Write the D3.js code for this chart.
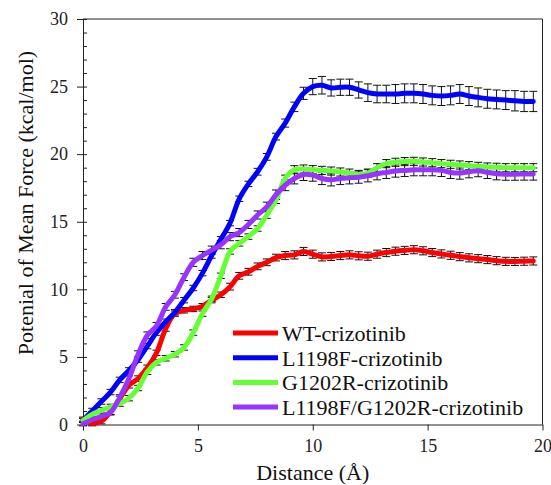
<!DOCTYPE html>
<html>
<head>
<meta charset="utf-8">
<script src="https://cdn.jsdelivr.net/npm/d3@7"></script>
<style>
  body { margin: 0; background: #fff; font-family: Times New Roman; }
</style>
</head>
<body>
<div id="chart"></div>
<script>
var svgWidth = 551;
var svgHeight = 485;

var margin = { top: 19, right: 8, bottom: 60, left: 83 };
var width = 542.5 - margin.left;
var height = 424.5 - margin.top;
var serifFont = "Times New Roman";

// distance grid (Å)
var distance = [0, 0.4, 0.8, 1.2, 1.6, 2.0, 2.4, 2.8, 3.2, 3.6,
  4.0, 4.4, 4.8, 5.2, 5.6, 6.0, 6.4, 6.8, 7.2, 7.6,
  8.0, 8.4, 8.8, 9.2, 9.6, 10.0, 10.4, 10.8, 11.2, 11.6,
  12.0, 12.4, 12.8, 13.2, 13.6, 14.0, 14.4, 14.8, 15.2, 15.6,
  16.0, 16.4, 16.8, 17.2, 17.6, 18.0, 18.4, 18.8, 19.2, 19.6];

var seriesNames = ["WT-crizotinib", "L1198F-crizotinib", "G1202R-crizotinib", "L1198F/G1202R-crizotinib"];
var seriesColors = ["#ff0000", "#0000ff", "#66ff33", "#9933ff"];

var wtPmf = [0.4, 0.1, 0.25, 0.95, 1.9, 2.9, 3.4, 4.2, 5.3, 7.1,
  8.2, 8.45, 8.55, 8.75, 9.2, 9.6, 10.2, 11.0, 11.3, 11.7,
  12.0, 12.35, 12.5, 12.55, 12.8, 12.6, 12.4, 12.43, 12.5, 12.55,
  12.48, 12.45, 12.6, 12.72, 12.82, 12.88, 12.93, 12.85, 12.72, 12.62,
  12.52, 12.42, 12.33, 12.27, 12.2, 12.12, 12.07, 12.06, 12.08, 12.1];
var wtErr = [0.15, 0.2, 0.2, 0.2, 0.2, 0.2, 0.2, 0.2, 0.2, 0.2,
  0.2, 0.2, 0.2, 0.2, 0.2, 0.2, 0.25, 0.25, 0.25, 0.25,
  0.25, 0.25, 0.3, 0.3, 0.3, 0.3, 0.3, 0.3, 0.3, 0.3,
  0.3, 0.3, 0.3, 0.3, 0.3, 0.3, 0.3, 0.3, 0.3, 0.3,
  0.3, 0.3, 0.3, 0.3, 0.3, 0.3, 0.3, 0.3, 0.3, 0.3];

var l1198fPmf = [0.3, 1.0, 1.7, 2.4, 3.3, 4.0, 4.8, 5.8, 6.8, 7.6,
  8.3, 9.2, 10.1, 11.2, 12.5, 13.7, 14.9, 16.7, 17.8, 18.7,
  19.8, 21.3, 22.3, 23.5, 24.5, 25.0, 25.1, 24.9, 24.95, 24.95,
  24.75, 24.55, 24.45, 24.45, 24.45, 24.5, 24.5, 24.45, 24.35, 24.3,
  24.35, 24.45, 24.3, 24.2, 24.1, 24.05, 24.0, 23.95, 23.9, 23.9];
var l1198fErr = [0.15, 0.2, 0.2, 0.2, 0.2, 0.2, 0.2, 0.2, 0.2, 0.2,
  0.2, 0.2, 0.2, 0.2, 0.2, 0.2, 0.2, 0.2, 0.2, 0.25,
  0.25, 0.25, 0.3, 0.35, 0.45, 0.6, 0.65, 0.6, 0.6, 0.6,
  0.6, 0.65, 0.65, 0.65, 0.7, 0.7, 0.7, 0.7, 0.7, 0.7,
  0.7, 0.7, 0.7, 0.7, 0.7, 0.7, 0.7, 0.75, 0.75, 0.75];

var g1202rPmf = [0.3, 0.75, 1.05, 1.3, 1.55, 1.95, 2.7, 3.9, 4.6, 4.9,
  5.2, 5.7, 6.8, 8.2, 9.3, 11.0, 12.8, 13.4, 13.9, 14.5,
  15.5, 16.6, 18.2, 18.85, 18.9, 18.85, 18.8, 18.75, 18.68, 18.6,
  18.5, 18.6, 19.0, 19.3, 19.4, 19.45, 19.47, 19.42, 19.37, 19.3,
  19.25, 19.2, 19.15, 19.1, 19.05, 19.03, 19.0, 19.0, 19.0, 19.0];
var g1202rErr = [0.15, 0.2, 0.2, 0.2, 0.2, 0.2, 0.2, 0.2, 0.2, 0.2,
  0.2, 0.2, 0.2, 0.2, 0.2, 0.2, 0.2, 0.2, 0.2, 0.2,
  0.25, 0.25, 0.25, 0.3, 0.3, 0.3, 0.3, 0.3, 0.3, 0.3,
  0.3, 0.3, 0.3, 0.3, 0.3, 0.3, 0.3, 0.3, 0.3, 0.3,
  0.3, 0.3, 0.3, 0.3, 0.3, 0.3, 0.3, 0.3, 0.3, 0.3];

var dualPmf = [0.05, 0.35, 0.6, 0.9, 2.0, 3.4, 5.2, 6.6, 7.3, 8.7,
  9.6, 10.9, 12.0, 12.5, 12.9, 13.3, 13.9, 14.2, 14.8, 15.5,
  16.1, 17.0, 17.7, 18.2, 18.5, 18.45, 18.2, 18.1, 18.2, 18.25,
  18.3, 18.4, 18.55, 18.65, 18.75, 18.8, 18.85, 18.85, 18.85, 18.8,
  18.65, 18.6, 18.7, 18.78, 18.65, 18.55, 18.52, 18.52, 18.53, 18.53];
var dualErr = [0.15, 0.2, 0.2, 0.2, 0.2, 0.2, 0.25, 0.25, 0.25, 0.25,
  0.25, 0.25, 0.3, 0.3, 0.3, 0.3, 0.3, 0.3, 0.3, 0.3,
  0.35, 0.35, 0.4, 0.4, 0.45, 0.45, 0.45, 0.45, 0.45, 0.45,
  0.45, 0.45, 0.45, 0.45, 0.45, 0.45, 0.45, 0.45, 0.45, 0.45,
  0.45, 0.45, 0.45, 0.45, 0.45, 0.45, 0.45, 0.45, 0.45, 0.45];

var xTicks = [0, 5, 10, 15, 20];
var yTicks = [0, 5, 10, 15, 20, 25, 30];

var pmfValues = [wtPmf, l1198fPmf, g1202rPmf, dualPmf];
var errValues = [wtErr, l1198fErr, g1202rErr, dualErr];

var series = seriesNames.map(function(name, i) {
  return {
    name: name,
    color: seriesColors[i],
    values: distance.map(function(d, j) {
      return { x: d, y: pmfValues[i][j], e: errValues[i][j] };
    })
  };
});

var svg = d3.select("#chart")
  .append("svg")
  .attr("width", svgWidth)
  .attr("height", svgHeight)
  .style("font-family", serifFont);

var chartGroup = svg.append("g")
  .attr("transform", `translate(${margin.left}, ${margin.top})`);

var xScale = d3.scaleLinear().domain([0, 20]).range([0, width]);
var yScale = d3.scaleLinear().domain([0, 30]).range([height, 0]);

// frame (top and right)
chartGroup.append("path")
  .attr("d", `M0,0H${width}V${height}`)
  .attr("fill", "none")
  .attr("stroke", "#222")
  .attr("stroke-width", 1);

// axes
var bottomAxis = d3.axisBottom(xScale)
  .tickValues(xTicks)
  .tickSizeInner(6)
  .tickSizeOuter(0)
  .tickPadding(9);

var leftAxis = d3.axisLeft(yScale)
  .tickValues(yTicks)
  .tickSizeInner(6)
  .tickSizeOuter(0)
  .tickPadding(9);

var minorAxis = d3.axisRight(yScale)
  .tickValues(d3.range(0, 31, 1))
  .tickSize(4)
  .tickFormat("");

var xAxisG = chartGroup.append("g")
  .attr("transform", `translate(0, ${height})`)
  .call(bottomAxis);

var yAxisG = chartGroup.append("g").call(leftAxis);
var yMinorG = chartGroup.append("g").call(minorAxis);
yMinorG.select(".domain").remove();

[xAxisG, yAxisG, yMinorG].forEach(function(g) {
  g.attr("font-family", serifFont).attr("font-size", 18);
  g.selectAll("line").attr("stroke", "#222");
  g.selectAll(".domain").attr("stroke", "#222");
  g.selectAll("text")
    .attr("fill", "#222")
    .style("font-family", serifFont)
    .style("font-size", "18px");
});

// error bars
var capHalf = 4;
series.forEach(function(s) {
  var eb = chartGroup.append("g").attr("class", "errorbars");
  eb.selectAll("path")
    .data(s.values)
    .enter()
    .append("path")
    .attr("d", function(d) {
      var x = xScale(d.x);
      var y1 = yScale(d.y + d.e);
      var y2 = yScale(d.y - d.e);
      return `M${x - capHalf},${y1}H${x + capHalf}M${x},${y1}V${y2}M${x - capHalf},${y2}H${x + capHalf}`;
    })
    .attr("fill", "none")
    .attr("stroke", "#111")
    .attr("stroke-width", 1);
});

// lines
var line = d3.line()
  .x(d => xScale(d.x))
  .y(d => yScale(d.y))
  .curve(d3.curveCatmullRom.alpha(0.5));

series.forEach(function(s) {
  chartGroup.append("path")
    .datum(s.values)
    .attr("d", line)
    .attr("fill", "none")
    .attr("stroke", s.color)
    .attr("stroke-width", 5)
    .attr("stroke-linejoin", "round")
    .attr("stroke-linecap", "round");
});

// legend
var legend = svg.append("g").attr("transform", "translate(233, 333)");
series.forEach(function(s, i) {
  var row = legend.append("g").attr("transform", `translate(0, ${i * 24.7})`);
  row.append("line")
    .attr("x1", 0).attr("x2", 45)
    .attr("y1", 0).attr("y2", 0)
    .attr("stroke", s.color)
    .attr("stroke-width", 5);
  row.append("text")
    .attr("x", 49)
    .attr("y", 8)
    .attr("fill", "#111")
    .style("font-family", serifFont)
    .style("font-size", "22px")
    .text(s.name);
});

// axis titles
svg.append("text")
  .attr("x", margin.left + width / 2)
  .attr("y", 480)
  .attr("text-anchor", "middle")
  .attr("fill", "#111")
  .style("font-family", serifFont)
  .style("font-size", "22px")
  .text("Distance (Å)");

svg.append("text")
  .attr("transform", "rotate(-90)")
  .attr("x", -203)
  .attr("y", 33)
  .attr("text-anchor", "middle")
  .attr("fill", "#111")
  .style("font-family", serifFont)
  .style("font-size", "22px")
  .text("Potenial of Mean Force (kcal/mol)");
</script>
</body>
</html>
